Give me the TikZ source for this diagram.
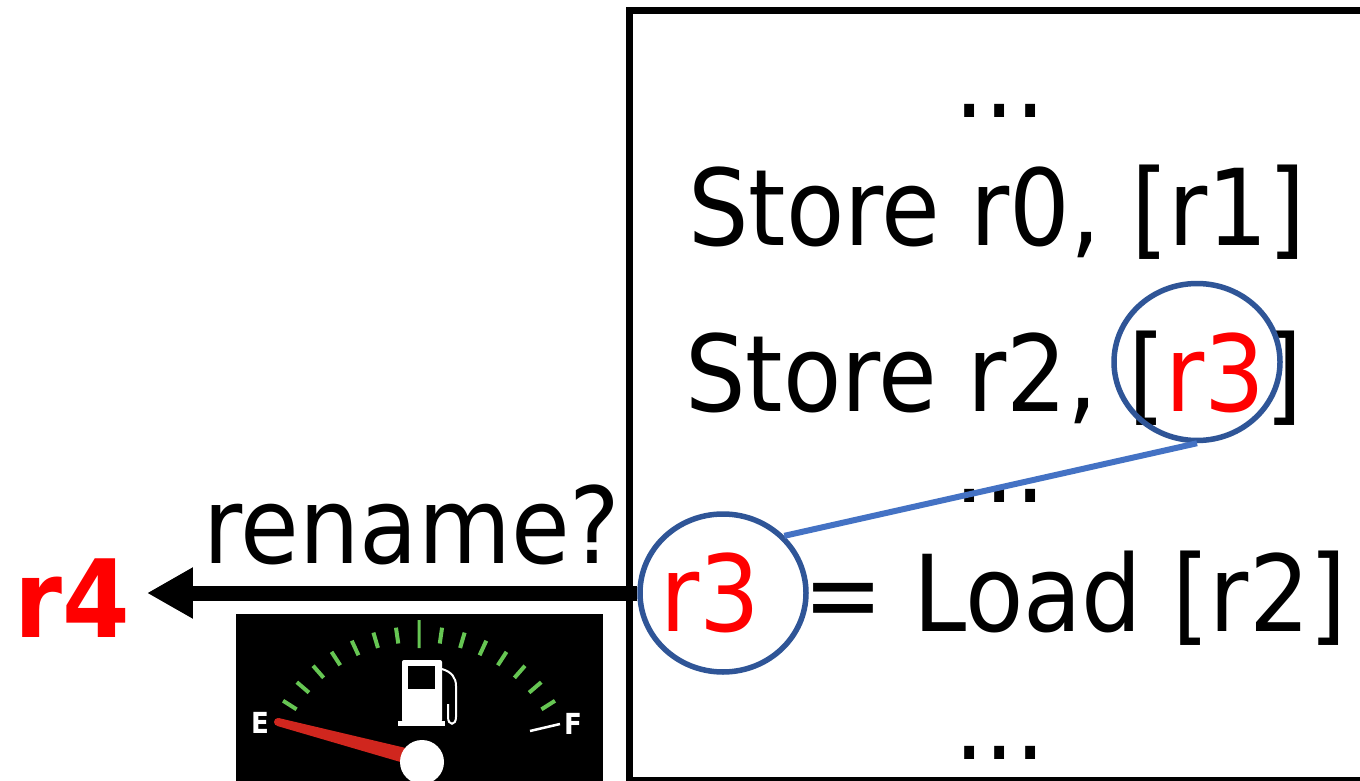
\documentclass[tikz,border=0pt]{standalone}
\usepackage{fontspec}
\usetikzlibrary{shapes.geometric,arrows.meta}
\newfontfamily\tah{DejaVu Sans}[FakeStretch=0.9]
\definecolor{ringblue}{HTML}{2F5597}
\definecolor{linkblue}{HTML}{4472C4}
\definecolor{regred}{HTML}{FF0000}
\definecolor{tickgreen}{HTML}{66C653}
\definecolor{needlered}{HTML}{D0261E}
\tikzset{
  code/.style={inner sep=0pt, font=\tah\fontsize{106}{120}\selectfont},
  ring/.style={ellipse, draw=ringblue, line width=5.5pt, inner sep=0pt},
  gaugetick/.style={draw=tickgreen, line width=4pt},
}
\begin{document}
\begin{tikzpicture}[x=1pt,y=-1pt]
\useasboundingbox (0,0) rectangle (1360,781);
\clip (0,0) rectangle (1360,781);
\fill[white] (0,0) rectangle (1360,781);

% program listing box
\draw[line width=7pt] (629,10.5) rectangle (1400,780.5);

\node[code, anchor=base] (d1) at (1000,118) {...};
\node[code, anchor=base] (s1) at (997,245) {Store r0, [r1]};
\node[code, anchor=base] (s2) at (994,411) {Store r2, [\textcolor{regred}{r3}]};
\node[code, anchor=base] (d2) at (1000,502) {...};
\node[code, anchor=base west, text=regred] (ld) at (660,631) {r3};
\node[code, anchor=base west] (lr) at (803,631) {= Load [r2]};
\node[code, anchor=base] (d3) at (1000,759) {...};

% marked operands and their link
\node[ring, minimum width=166pt, minimum height=157pt] (c1) at (1197,362) {};
\node[ring, minimum width=166pt, minimum height=158pt] (c2) at (723,593) {};
\draw[linkblue, line width=6pt] (c1.south) -- (c2.43);

% rename target
\node[inner sep=0pt, anchor=base west, text=regred,
      font=\tah\bfseries\fontsize{108}{118}\selectfont] (r4) at (14,637) {r4};
\node[code, anchor=base] (rn) at (412,563) {rename?};
\draw[line width=15pt, -{Triangle[length=46pt,width=48pt]}, shorten >=17pt]
  (c2.west) -- (c2.west -| r4.east);

% fuel gauge
\begin{scope}
  \fill[black] (236,614) rectangle (603,790);
  \clip (236,614) rectangle (603,781);
  \foreach \i in {0,...,14} {
    \pgfmathsetmacro{\a}{147.6-\i*8.23}
    \ifnum\i=7
      \draw[gaugetick, line width=3pt] (419,787) ++(-\a:139) -- ++(-\a:28);
    \else
      \draw[gaugetick] (419,787) ++(-\a:145) -- ++(-\a:16);
    \fi
  }
  \draw[white, line width=2.5pt] (530,731) -- (560,724);
  \node[inner sep=0pt, anchor=base west, text=white,
        font=\tah\bfseries\fontsize{29}{30}\selectfont] (ge) at (251,733) {E};
  \node[inner sep=0pt, anchor=base west, text=white,
        font=\tah\bfseries\fontsize{29}{30}\selectfont] (gf) at (564,734) {F};
  % pump icon
  \fill[white, rounded corners=2pt] (402,660) rectangle (442,722);
  \fill[black] (407.5,666) rectangle (435,689);
  \fill[white] (398,721) rectangle (445,726);
  \draw[white, line width=2pt] (442,669) .. controls (452,672) and (456,678) .. (456,686)
    -- (456,717) .. controls (456,726) and (448,726) .. (448,717) -- (448,704);
  % needle and hub
  \fill[needlered] (277,725.9) -- (420,767.7) -- (424,752.3) -- (279,718.1) -- cycle;
  \fill[needlered] (278,722) circle[radius=4pt];
  \fill[white] (422,762) circle[radius=22pt];
\end{scope}
\end{tikzpicture}
\end{document}
